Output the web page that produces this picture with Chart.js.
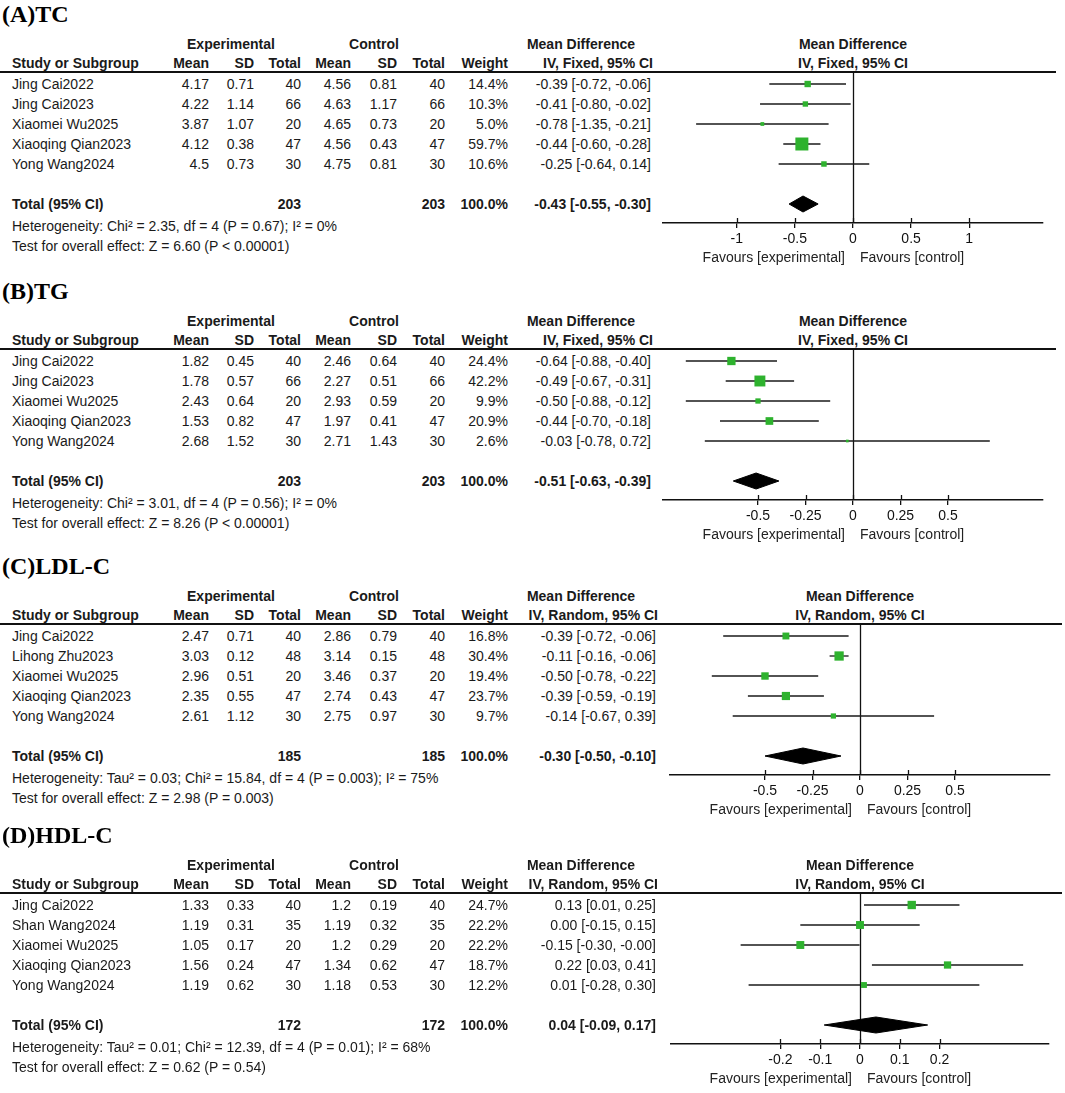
<!DOCTYPE html>
<html>
<head>
<meta charset="utf-8">
<script src="https://cdn.jsdelivr.net/npm/chart.js@4.4.1/dist/chart.umd.min.js"></script>
<style>
  body { margin: 0; background: #fff; }
  #page { position: relative; width: 1065px; height: 1093px; overflow: hidden;
          font-family: "Liberation Sans", Arial, sans-serif; color: #1a1a1a; }
  .panel { position: absolute; left: 0; width: 1065px; height: 272px; }
  .t { position: absolute; font-size: 14px; line-height: 16px; white-space: nowrap; }
  .b { font-weight: bold; }
  .title { position: absolute; left: 2px; font-family: "Liberation Serif", "Times New Roman", serif;
           font-weight: bold; font-size: 24px; line-height: 28px; color: #000; white-space: nowrap; }
  .rule { position: absolute; left: 0; top: 71px; height: 2px; background: #111; }
  canvas { position: absolute; }
</style>
</head>
<body>
<div id="page"></div>
<script>
// ---- (A) TC ----
const tcStudies = ['Jing Cai2022', 'Jing Cai2023', 'Xiaomei Wu2025', 'Xiaoqing Qian2023', 'Yong Wang2024'];
const tcExpMean = [4.17, 4.22, 3.87, 4.12, 4.5];
const tcExpSd = [0.71, 1.14, 1.07, 0.38, 0.73];
const tcExpN = [40, 66, 20, 47, 30];
const tcCtlMean = [4.56, 4.63, 4.65, 4.56, 4.75];
const tcCtlSd = [0.81, 1.17, 0.73, 0.43, 0.81];
const tcCtlN = [40, 66, 20, 47, 30];
const tcWeight = [14.4, 10.3, 5.0, 59.7, 10.6];
const tcMd = [-0.39, -0.41, -0.78, -0.44, -0.25];
const tcLo = [-0.72, -0.80, -1.35, -0.60, -0.64];
const tcHi = [-0.06, -0.02, -0.21, -0.28, 0.14];
const tcTotal = [-0.43, -0.55, -0.30];
const tcTotalN = [203, 203];
const tcTicks = [-1, -0.5, 0, 0.5, 1];
const tcTickLabels = ['-1', '-0.5', '0', '0.5', '1'];

// ---- (B) TG ----
const tgStudies = ['Jing Cai2022', 'Jing Cai2023', 'Xiaomei Wu2025', 'Xiaoqing Qian2023', 'Yong Wang2024'];
const tgExpMean = [1.82, 1.78, 2.43, 1.53, 2.68];
const tgExpSd = [0.45, 0.57, 0.64, 0.82, 1.52];
const tgExpN = [40, 66, 20, 47, 30];
const tgCtlMean = [2.46, 2.27, 2.93, 1.97, 2.71];
const tgCtlSd = [0.64, 0.51, 0.59, 0.41, 1.43];
const tgCtlN = [40, 66, 20, 47, 30];
const tgWeight = [24.4, 42.2, 9.9, 20.9, 2.6];
const tgMd = [-0.64, -0.49, -0.50, -0.44, -0.03];
const tgLo = [-0.88, -0.67, -0.88, -0.70, -0.78];
const tgHi = [-0.40, -0.31, -0.12, -0.18, 0.72];
const tgTotal = [-0.51, -0.63, -0.39];
const tgTotalN = [203, 203];
const tgTicks = [-0.5, -0.25, 0, 0.25, 0.5];
const tgTickLabels = ['-0.5', '-0.25', '0', '0.25', '0.5'];

// ---- (C) LDL-C ----
const ldlStudies = ['Jing Cai2022', 'Lihong Zhu2023', 'Xiaomei Wu2025', 'Xiaoqing Qian2023', 'Yong Wang2024'];
const ldlExpMean = [2.47, 3.03, 2.96, 2.35, 2.61];
const ldlExpSd = [0.71, 0.12, 0.51, 0.55, 1.12];
const ldlExpN = [40, 48, 20, 47, 30];
const ldlCtlMean = [2.86, 3.14, 3.46, 2.74, 2.75];
const ldlCtlSd = [0.79, 0.15, 0.37, 0.43, 0.97];
const ldlCtlN = [40, 48, 20, 47, 30];
const ldlWeight = [16.8, 30.4, 19.4, 23.7, 9.7];
const ldlMd = [-0.39, -0.11, -0.50, -0.39, -0.14];
const ldlLo = [-0.72, -0.16, -0.78, -0.59, -0.67];
const ldlHi = [-0.06, -0.06, -0.22, -0.19, 0.39];
const ldlTotal = [-0.30, -0.50, -0.10];
const ldlTotalN = [185, 185];
const ldlTicks = [-0.5, -0.25, 0, 0.25, 0.5];
const ldlTickLabels = ['-0.5', '-0.25', '0', '0.25', '0.5'];

// ---- (D) HDL-C ----
const hdlStudies = ['Jing Cai2022', 'Shan Wang2024', 'Xiaomei Wu2025', 'Xiaoqing Qian2023', 'Yong Wang2024'];
const hdlExpMean = [1.33, 1.19, 1.05, 1.56, 1.19];
const hdlExpSd = [0.33, 0.31, 0.17, 0.24, 0.62];
const hdlExpN = [40, 35, 20, 47, 30];
const hdlCtlMean = [1.2, 1.19, 1.2, 1.34, 1.18];
const hdlCtlSd = [0.19, 0.32, 0.29, 0.62, 0.53];
const hdlCtlN = [40, 35, 20, 47, 30];
const hdlWeight = [24.7, 22.2, 22.2, 18.7, 12.2];
const hdlMd = [0.13, 0.00, -0.15, 0.22, 0.01];
const hdlLo = [0.01, -0.15, -0.30, 0.03, -0.28];
const hdlHi = [0.25, 0.15, -0.001, 0.41, 0.30];   // upper limit just below zero, shown as -0.00
const hdlTotal = [0.04, -0.09, 0.17];
const hdlTotalN = [172, 172];
const hdlTicks = [-0.2, -0.1, 0, 0.1, 0.2];
const hdlTickLabels = ['-0.2', '-0.1', '0', '0.1', '0.2'];

const GREEN = 'rgb(46,178,46)';
const TOTAL_ROW = 6;

const panels = [
  { title: '(A)TC', top: 0, method: 'IV, Fixed, 95% CI', range: 1.635, axisL: 663, axisR: 1043, ruleR: 1056, ciR: 651,
    studies: tcStudies, expMean: tcExpMean, expSd: tcExpSd, expN: tcExpN, ctlMean: tcCtlMean, ctlSd: tcCtlSd, ctlN: tcCtlN,
    weight: tcWeight, md: tcMd, lo: tcLo, hi: tcHi, total: tcTotal, totalN: tcTotalN, ticks: tcTicks, tickLabels: tcTickLabels,
    het: 'Heterogeneity: Chi² = 2.35, df = 4 (P = 0.67); I² = 0%',
    test: 'Test for overall effect: Z = 6.60 (P < 0.00001)' },
  { title: '(B)TG', top: 277, method: 'IV, Fixed, 95% CI', range: 1, axisL: 663, axisR: 1043, ruleR: 1056, ciR: 651,
    studies: tgStudies, expMean: tgExpMean, expSd: tgExpSd, expN: tgExpN, ctlMean: tgCtlMean, ctlSd: tgCtlSd, ctlN: tgCtlN,
    weight: tgWeight, md: tgMd, lo: tgLo, hi: tgHi, total: tgTotal, totalN: tgTotalN, ticks: tgTicks, tickLabels: tgTickLabels,
    het: 'Heterogeneity: Chi² = 3.01, df = 4 (P = 0.56); I² = 0%',
    test: 'Test for overall effect: Z = 8.26 (P < 0.00001)' },
  { title: '(C)LDL-C', top: 552, method: 'IV, Random, 95% CI', range: 1, axisL: 670, axisR: 1050, ruleR: 1062, ciR: 656,
    studies: ldlStudies, expMean: ldlExpMean, expSd: ldlExpSd, expN: ldlExpN, ctlMean: ldlCtlMean, ctlSd: ldlCtlSd, ctlN: ldlCtlN,
    weight: ldlWeight, md: ldlMd, lo: ldlLo, hi: ldlHi, total: ldlTotal, totalN: ldlTotalN, ticks: ldlTicks, tickLabels: ldlTickLabels,
    het: 'Heterogeneity: Tau² = 0.03; Chi² = 15.84, df = 4 (P = 0.003); I² = 75%',
    test: 'Test for overall effect: Z = 2.98 (P = 0.003)' },
  { title: '(D)HDL-C', top: 821, method: 'IV, Random, 95% CI', range: 0.475, axisL: 671, axisR: 1049, ruleR: 1062, ciR: 656,
    studies: hdlStudies, expMean: hdlExpMean, expSd: hdlExpSd, expN: hdlExpN, ctlMean: hdlCtlMean, ctlSd: hdlCtlSd, ctlN: hdlCtlN,
    weight: hdlWeight, md: hdlMd, lo: hdlLo, hi: hdlHi, total: hdlTotal, totalN: hdlTotalN, ticks: hdlTicks, tickLabels: hdlTickLabels,
    het: 'Heterogeneity: Tau² = 0.01; Chi² = 12.39, df = 4 (P = 0.01); I² = 68%',
    test: 'Test for overall effect: Z = 0.62 (P = 0.54)' }
];

// column anchors (right edges) of the table
const COL = { name: 12, expMean: 209, expSd: 254, expN: 301, ctlMean: 351, ctlSd: 397, ctlN: 445, weight: 508 };

function txt(parent, s, x, y, align, cls) {
  const d = document.createElement('div');
  d.className = 't' + (cls ? ' ' + cls : '');
  d.textContent = s;
  d.style.top = (y - 8) + 'px';
  if (align === 'right') {
    d.style.left = (x - 300) + 'px'; d.style.width = '300px'; d.style.textAlign = 'right';
  } else if (align === 'center') {
    d.style.left = (x - 150) + 'px'; d.style.width = '300px'; d.style.textAlign = 'center';
  } else {
    d.style.left = x + 'px';
  }
  parent.appendChild(d);
}

function ciText(m, l, h) {
  return m.toFixed(2) + ' [' + l.toFixed(2) + ', ' + h.toFixed(2) + ']';
}

Chart.defaults.font.family = '"Liberation Sans", Arial, sans-serif';

const forestExtras = {
  id: 'forestExtras',
  beforeDatasetsDraw(chart) {
    const ctx = chart.ctx, a = chart.chartArea;
    const x0 = Math.round(chart.scales.x.getPixelForValue(0)) + 0.5;
    ctx.save();
    ctx.strokeStyle = '#111';
    ctx.lineWidth = 1.3;
    ctx.beginPath();
    ctx.moveTo(x0, a.top);
    ctx.lineTo(x0, a.bottom);
    ctx.stroke();
    ctx.restore();
  },
  afterDraw(chart) {
    const ctx = chart.ctx, a = chart.chartArea, sx = chart.scales.x;
    const x0 = sx.getPixelForValue(0);
    ctx.save();
    // short tick stubs above the axis line
    ctx.strokeStyle = '#111';
    ctx.lineWidth = 1.3;
    sx.ticks.forEach(t => {
      const px = Math.round(sx.getPixelForValue(t.value)) + 0.5;
      ctx.beginPath();
      ctx.moveTo(px, a.bottom - 5);
      ctx.lineTo(px, a.bottom);
      ctx.stroke();
    });
    ctx.font = '14px "Liberation Sans", Arial, sans-serif';
    ctx.fillStyle = '#222';
    ctx.textBaseline = 'middle';
    ctx.textAlign = 'right';
    ctx.fillText('Favours [experimental]', x0 - 8, 186);
    ctx.textAlign = 'left';
    ctx.fillText('Favours [control]', x0 + 7, 186);
    ctx.restore();
  }
};

const page = document.getElementById('page');

panels.forEach(p => {
  const div = document.createElement('div');
  div.className = 'panel';
  div.style.top = p.top + 'px';
  page.appendChild(div);

  const title = document.createElement('div');
  title.className = 'title';
  title.style.top = '0px';
  title.textContent = p.title;
  div.appendChild(title);

  const rule = document.createElement('div');
  rule.className = 'rule';
  rule.style.width = p.ruleR + 'px';
  div.appendChild(rule);

  const zeroX = (p.axisL + p.axisR) / 2;

  // header rows
  txt(div, 'Experimental', 231, 44, 'center', 'b');
  txt(div, 'Control', 374, 44, 'center', 'b');
  txt(div, 'Mean Difference', 581, 44, 'center', 'b');
  txt(div, 'Mean Difference', zeroX, 44, 'center', 'b');
  txt(div, 'Study or Subgroup', COL.name, 63, 'left', 'b');
  txt(div, 'Mean', COL.expMean, 63, 'right', 'b');
  txt(div, 'SD', COL.expSd, 63, 'right', 'b');
  txt(div, 'Total', COL.expN, 63, 'right', 'b');
  txt(div, 'Mean', COL.ctlMean, 63, 'right', 'b');
  txt(div, 'SD', COL.ctlSd, 63, 'right', 'b');
  txt(div, 'Total', COL.ctlN, 63, 'right', 'b');
  txt(div, 'Weight', COL.weight, 63, 'right', 'b');
  txt(div, p.method, p.ciR + 2, 63, 'right', 'b');
  txt(div, p.method, zeroX, 63, 'center', 'b');

  // study rows
  p.studies.forEach((s, i) => {
    const y = 84 + 20 * i;
    txt(div, s, COL.name, y, 'left');
    txt(div, String(p.expMean[i]), COL.expMean, y, 'right');
    txt(div, String(p.expSd[i]), COL.expSd, y, 'right');
    txt(div, String(p.expN[i]), COL.expN, y, 'right');
    txt(div, String(p.ctlMean[i]), COL.ctlMean, y, 'right');
    txt(div, String(p.ctlSd[i]), COL.ctlSd, y, 'right');
    txt(div, String(p.ctlN[i]), COL.ctlN, y, 'right');
    txt(div, p.weight[i].toFixed(1) + '%', COL.weight, y, 'right');
    txt(div, ciText(p.md[i], p.lo[i], p.hi[i]), p.ciR, y, 'right');
  });

  // total + footnotes
  txt(div, 'Total (95% CI)', COL.name, 204, 'left', 'b');
  txt(div, String(p.totalN[0]), COL.expN, 204, 'right', 'b');
  txt(div, String(p.totalN[1]), COL.ctlN, 204, 'right', 'b');
  txt(div, '100.0%', COL.weight, 204, 'right', 'b');
  txt(div, ciText(p.total[0], p.total[1], p.total[2]), p.ciR, 204, 'right', 'b');
  txt(div, p.het, COL.name, 226, 'left');
  txt(div, p.test, COL.name, 246, 'left');

  // forest plot
  const canvas = document.createElement('canvas');
  canvas.width = 410;
  canvas.height = 200;
  canvas.style.left = '655px';
  canvas.style.top = '72px';
  div.appendChild(canvas);

  const squares = {
    data: p.md.map((m, i) => ({ x: m, y: i })),
    pointStyle: 'rect',
    pointRadius: p.weight.map(w => 1.19 * Math.sqrt(w)),
    pointHoverRadius: p.weight.map(w => 1.19 * Math.sqrt(w)),
    backgroundColor: GREEN,
    borderWidth: 0,
    showLine: false,
    order: 0
  };
  const ciLines = p.md.map((m, i) => ({
    data: [{ x: p.lo[i], y: i }, { x: p.hi[i], y: i }],
    showLine: true,
    borderColor: '#1a1a1a',
    borderWidth: 1.3,
    pointRadius: 0,
    pointHoverRadius: 0,
    order: 1
  }));
  const [est, lo, hi] = p.total;
  const diamond = {
    data: [
      { x: lo, y: TOTAL_ROW }, { x: est, y: TOTAL_ROW - 0.4 },
      { x: hi, y: TOTAL_ROW }, { x: est, y: TOTAL_ROW + 0.4 }, { x: lo, y: TOTAL_ROW }
    ],
    showLine: true,
    fill: 'shape',
    backgroundColor: '#000',
    borderColor: '#000',
    borderWidth: 1,
    pointRadius: 0,
    pointHoverRadius: 0,
    order: 1
  };

  new Chart(canvas, {
    type: 'scatter',
    data: { datasets: [squares, ...ciLines, diamond] },
    options: {
      responsive: false,
      animation: false,
      events: [],
      layout: { autoPadding: false, padding: { left: p.axisL - 655, right: 1065 - p.axisR, top: 0, bottom: 0 } },
      plugins: { legend: { display: false }, tooltip: { enabled: false } },
      scales: {
        x: {
          type: 'linear',
          min: -p.range,
          max: p.range,
          afterBuildTicks: s => { s.ticks = p.ticks.map(v => ({ value: v })); },
          afterFit: s => { s.height = 49; },
          grid: { drawOnChartArea: false, drawTicks: true, tickLength: 5, color: '#111', lineWidth: 1.3 },
          border: { display: true, color: '#111', width: 1.5 },
          ticks: {
            autoSkip: false, maxRotation: 0, padding: 3, color: '#111',
            font: { size: 14 },
            callback: (v, i) => p.tickLabels[i]
          }
        },
        y: { type: 'linear', display: false, min: -0.6, max: 6.95, reverse: true }
      }
    },
    plugins: [forestExtras]
  });
});
</script>
</body>
</html>
